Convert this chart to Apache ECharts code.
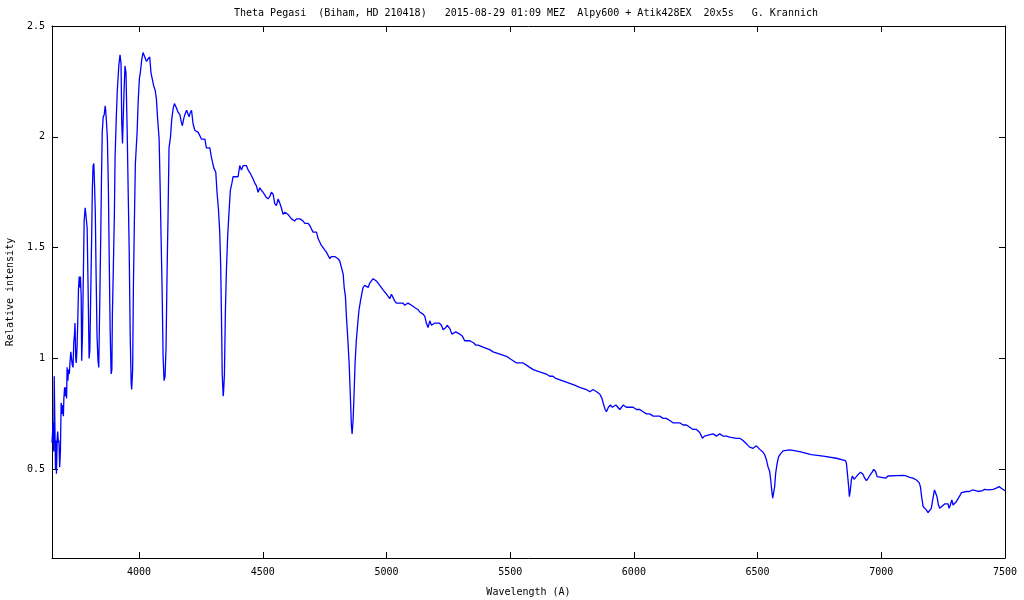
<!DOCTYPE html>
<html>
<head>
<meta charset="utf-8">
<title>Theta Pegasi spectrum</title>
<script src="https://cdn.jsdelivr.net/npm/echarts@6/dist/echarts.min.js"></script>
<style>
  html, body { margin: 0; padding: 0; background: #fff; }
  #chart { width: 1024px; height: 600px; }
</style>
</head>
<body>
<div id="chart"></div>
<script>
// spectrum: wavelength in Angstrom, relative intensity
var wavelength = [
  3648, 3650, 3652, 3655, 3657, 3659, 3662, 3664, 3666, 3669, 3671, 3674, 3676, 3679, 3682, 3685,
  3688, 3691, 3694, 3696, 3699, 3702, 3705, 3707, 3709, 3712, 3715, 3718, 3720, 3724, 3727, 3730,
  3733, 3736, 3739, 3741, 3744, 3746, 3749, 3752, 3755, 3758, 3760, 3763, 3766, 3768, 3771, 3774,
  3778, 3782, 3784, 3787, 3790, 3794, 3798, 3801, 3805, 3809, 3811, 3814, 3817, 3820, 3823, 3826,
  3830, 3834, 3837, 3841, 3845, 3848, 3851, 3855, 3859, 3863, 3865, 3868, 3872, 3876, 3879, 3883,
  3887, 3890, 3892, 3896, 3900, 3903, 3908, 3912, 3918, 3923, 3927, 3930, 3933, 3935, 3939, 3943,
  3947, 3952, 3956, 3960, 3964, 3968, 3970, 3974, 3977, 3981, 3985, 3992, 3996, 4001, 4005, 4011,
  4016, 4023, 4030, 4035, 4043, 4048, 4054, 4059, 4065, 4070, 4075, 4081, 4085, 4089, 4093, 4097,
  4101, 4105, 4109, 4113, 4117, 4121, 4127, 4132, 4138, 4143, 4151, 4158, 4165, 4170, 4175, 4180,
  4185, 4192, 4202, 4207, 4212, 4218, 4225, 4239, 4245, 4252, 4259, 4266, 4272, 4286, 4292, 4302,
  4310, 4315, 4321, 4326, 4330, 4333, 4336, 4340, 4342, 4345, 4349, 4353, 4358, 4364, 4369, 4375,
  4380, 4391, 4400, 4407, 4414, 4420, 4427, 4434, 4441, 4447, 4461, 4468, 4474, 4481, 4488, 4494,
  4501, 4512, 4521, 4528, 4535, 4542, 4548, 4555, 4562, 4569, 4575, 4582, 4589, 4596, 4602, 4609,
  4616, 4629, 4636, 4650, 4663, 4670, 4683, 4690, 4703, 4717, 4724, 4737, 4750, 4757, 4771, 4777,
  4791, 4804, 4811, 4818, 4825, 4829, 4834, 4838, 4843, 4849, 4854, 4858, 4861, 4865, 4868, 4873,
  4878, 4884, 4889, 4895, 4900, 4905, 4912, 4926, 4932, 4939, 4946, 4959, 4973, 4986, 5000, 5013,
  5020, 5033, 5040, 5051, 5067, 5074, 5087, 5101, 5114, 5128, 5134, 5148, 5155, 5161, 5168, 5175,
  5182, 5195, 5213, 5222, 5229, 5240, 5245, 5253, 5258, 5264, 5272, 5280, 5296, 5307, 5316, 5337,
  5353, 5361, 5370, 5393, 5417, 5431, 5458, 5485, 5498, 5512, 5525, 5552, 5566, 5579, 5593, 5619,
  5646, 5660, 5673, 5684, 5710, 5735, 5760, 5781, 5808, 5822, 5835, 5849, 5862, 5871, 5878, 5884,
  5889, 5897, 5905, 5913, 5921, 5927, 5935, 5943, 5950, 5956, 5970, 5983, 5997, 6010, 6024, 6037,
  6051, 6064, 6078, 6104, 6118, 6131, 6145, 6158, 6172, 6185, 6199, 6212, 6226, 6239, 6253, 6263,
  6269, 6277, 6285, 6293, 6320, 6334, 6347, 6360, 6374, 6387, 6414, 6428, 6441, 6455, 6468, 6482,
  6495, 6503, 6509, 6522, 6529, 6536, 6542, 6549, 6553, 6557, 6561, 6565, 6569, 6573, 6579, 6585,
  6594, 6603, 6630, 6670, 6717, 6765, 6818, 6855, 6859, 6863, 6868, 6871, 6875, 6879, 6883, 6890,
  6897, 6906, 6916, 6926, 6933, 6940, 6947, 6953, 6963, 6969, 6977, 6983, 7000, 7018, 7027, 7034,
  7061, 7088, 7101, 7115, 7128, 7142, 7153, 7158, 7163, 7169, 7177, 7182, 7189, 7196, 7202, 7209,
  7215, 7220, 7225, 7231, 7236, 7243, 7256, 7263, 7270, 7274, 7279, 7285, 7290, 7303, 7317, 7324,
  7330, 7344, 7357, 7368, 7374, 7382, 7391, 7409, 7418, 7425, 7433, 7452, 7465, 7476, 7485, 7492,
  7500
];
var intensity = [
  0.62, 0.66, 0.71, 0.58, 0.92, 0.92, 0.50, 0.63, 0.48, 0.64, 0.67, 0.62, 0.63, 0.51, 0.58, 0.80,
  0.75, 0.79, 0.74, 0.82, 0.87, 0.83, 0.87, 0.82, 0.96, 0.90, 0.95, 0.93, 0.97, 1.03, 1.03, 0.97,
  0.96, 1.07, 1.11, 1.16, 1.00, 0.98, 1.04, 1.16, 1.31, 1.37, 1.32, 1.37, 1.28, 0.99, 1.10, 1.32,
  1.62, 1.68, 1.66, 1.66, 1.59, 1.31, 1.00, 1.04, 1.32, 1.60, 1.76, 1.87, 1.88, 1.78, 1.66, 1.40,
  1.10, 0.99, 0.96, 1.25, 1.55, 1.81, 2.02, 2.09, 2.10, 2.14, 2.12, 2.07, 1.99, 1.76, 1.48, 1.13,
  0.93, 0.95, 1.19, 1.41, 1.64, 1.91, 2.09, 2.21, 2.32, 2.37, 2.33, 2.06, 1.97, 2.05, 2.20, 2.32,
  2.29, 2.02, 1.75, 1.49, 1.11, 0.89, 0.86, 0.95, 1.32, 1.62, 1.88, 2.02, 2.15, 2.26, 2.29, 2.35,
  2.38, 2.36, 2.34, 2.35, 2.36, 2.29, 2.29, 2.23, 2.21, 2.17, 2.08, 1.99, 1.78, 1.54, 1.32, 1.01,
  0.90, 0.92, 1.05, 1.38, 1.64, 1.95, 2.00, 2.08, 2.13, 2.15, 2.13, 2.11, 2.10, 2.07, 2.05, 2.08,
  2.10, 2.12, 2.09, 2.11, 2.12, 2.06, 2.03, 2.02, 2.02, 1.99, 1.99, 1.99, 1.95, 1.95, 1.91, 1.86,
  1.84, 1.75, 1.67, 1.57, 1.41, 1.19, 0.93, 0.83, 0.86, 0.93, 1.22, 1.40, 1.55, 1.67, 1.76, 1.79,
  1.82, 1.82, 1.82, 1.87, 1.85, 1.87, 1.87, 1.87, 1.85, 1.84, 1.81, 1.79, 1.78, 1.75, 1.77, 1.76,
  1.75, 1.73, 1.72, 1.73, 1.75, 1.74, 1.70, 1.69, 1.72, 1.70, 1.68, 1.65, 1.66, 1.66, 1.65, 1.64,
  1.63, 1.62, 1.63, 1.63, 1.62, 1.61, 1.61, 1.60, 1.57, 1.57, 1.54, 1.51, 1.49, 1.48, 1.45, 1.46,
  1.46, 1.45, 1.44, 1.41, 1.38, 1.32, 1.28, 1.19, 1.10, 0.98, 0.83, 0.70, 0.66, 0.72, 0.81, 0.98,
  1.08, 1.16, 1.22, 1.26, 1.29, 1.32, 1.33, 1.32, 1.34, 1.35, 1.36, 1.35, 1.33, 1.31, 1.29, 1.27,
  1.29, 1.26, 1.25, 1.25, 1.25, 1.24, 1.25, 1.24, 1.23, 1.22, 1.21, 1.20, 1.19, 1.16, 1.14, 1.17,
  1.15, 1.16, 1.16, 1.15, 1.13, 1.14, 1.15, 1.14, 1.13, 1.11, 1.11, 1.12, 1.11, 1.10, 1.08, 1.08,
  1.07, 1.06, 1.06, 1.05, 1.04, 1.03, 1.02, 1.01, 1.00, 0.99, 0.98, 0.98, 0.97, 0.96, 0.95, 0.94,
  0.93, 0.92, 0.92, 0.91, 0.90, 0.89, 0.88, 0.87, 0.86, 0.85, 0.86, 0.85, 0.84, 0.82, 0.79, 0.77,
  0.76, 0.78, 0.79, 0.78, 0.78, 0.79, 0.79, 0.77, 0.78, 0.79, 0.78, 0.78, 0.78, 0.77, 0.77, 0.76,
  0.75, 0.75, 0.74, 0.74, 0.73, 0.73, 0.72, 0.71, 0.71, 0.71, 0.70, 0.70, 0.69, 0.68, 0.68, 0.67,
  0.66, 0.64, 0.65, 0.65, 0.66, 0.65, 0.66, 0.65, 0.65, 0.645, 0.64, 0.64, 0.63, 0.615, 0.60, 0.595,
  0.606, 0.615, 0.59, 0.577, 0.565, 0.542, 0.512, 0.49, 0.452, 0.407, 0.37, 0.377, 0.422, 0.482, 0.527, 0.557,
  0.572, 0.583, 0.588, 0.58, 0.566, 0.56, 0.55, 0.539, 0.527, 0.482, 0.422, 0.377, 0.407, 0.452, 0.47, 0.455,
  0.464, 0.476, 0.487, 0.478, 0.46, 0.449, 0.46, 0.472, 0.487, 0.50, 0.49, 0.467, 0.464, 0.46, 0.47, 0.476,
  0.472, 0.473, 0.47, 0.464, 0.46, 0.452, 0.44, 0.422, 0.377, 0.332, 0.324, 0.317, 0.305, 0.314, 0.324, 0.37,
  0.407, 0.404, 0.377, 0.339, 0.324, 0.332, 0.344, 0.35, 0.344, 0.324, 0.339, 0.362, 0.339, 0.354, 0.38, 0.395,
  0.40, 0.40, 0.40, 0.407, 0.415, 0.404, 0.40, 0.404, 0.41, 0.418, 0.407, 0.41, 0.415, 0.422, 0.415, 0.41,
  0.403
];
var xTicks = [4000, 4500, 5000, 5500, 6000, 6500, 7000, 7500];
var yTicks = [0.5, 1, 1.5, 2, 2.5];

var titleText = "Theta Pegasi  (Biham, HD 210418)   2015-08-29 01:09 MEZ  Alpy600 + Atik428EX  20x5s   G. Krannich";
var monoFont = "DejaVu Sans Mono";

var chart = echarts.init(document.getElementById("chart"));

var seriesData = wavelength.map(function (w, i) {
  return [w, intensity[i]];
});

function plainNumber(v) {
  return String(v);
}

function frameAxis(extra) {
  // gnuplot style box: black line, short ticks pointing inwards
  var axis = {
    type: "value",
    axisLine: { show: true, onZero: false, lineStyle: { color: "#000", width: 1 } },
    axisTick: { show: true, inside: true, length: 6, lineStyle: { color: "#000", width: 1 } },
    axisLabel: { show: false },
    splitLine: { show: false },
  };
  return Object.assign(axis, extra);
}

var option = {
  animation: false,
  backgroundColor: "#fff",
  title: {
    text: titleText,
    left: 234,
    top: 8,
    padding: 0,
    textStyle: { fontFamily: monoFont, fontSize: 10, fontWeight: "normal", color: "#000" },
  },
  grid: { left: 52, right: 19, top: 26, bottom: 42, containLabel: false, outerBoundsMode: "none" },
  xAxis: [
    frameAxis({
      position: "bottom",
      min: 3648,
      max: 7500,
      name: "Wavelength (A)",
      nameLocation: "middle",
      nameGap: 29,
      nameTextStyle: { fontFamily: monoFont, fontSize: 10, color: "#000" },
      axisTick: { show: true, inside: true, length: 6, customValues: xTicks, lineStyle: { color: "#000" } },
      axisLabel: {
        show: true,
        customValues: xTicks,
        margin: 9,
        formatter: plainNumber,
        fontFamily: monoFont,
        fontSize: 10,
        color: "#000",
      },
    }),
    frameAxis({
      position: "top",
      min: 3648,
      max: 7500,
      axisTick: { show: true, inside: true, length: 6, customValues: xTicks, lineStyle: { color: "#000" } },
    }),
  ],
  yAxis: [
    frameAxis({
      position: "left",
      min: 0.1,
      max: 2.5,
      name: "Relative intensity",
      nameLocation: "middle",
      nameRotate: 90,
      nameGap: 37,
      nameTextStyle: { fontFamily: monoFont, fontSize: 10, color: "#000" },
      axisTick: { show: true, inside: true, length: 6, customValues: yTicks, lineStyle: { color: "#000" } },
      axisLabel: {
        show: true,
        customValues: yTicks,
        margin: 7,
        formatter: plainNumber,
        fontFamily: monoFont,
        fontSize: 10,
        color: "#000",
      },
    }),
    frameAxis({
      position: "right",
      min: 0.1,
      max: 2.5,
      axisTick: { show: true, inside: true, length: 6, customValues: yTicks, lineStyle: { color: "#000" } },
    }),
  ],
  series: [
    {
      type: "line",
      xAxisIndex: 0,
      yAxisIndex: 0,
      data: seriesData,
      showSymbol: false,
      symbol: "none",
      lineStyle: { color: "#0000ff", width: 1.3 },
      itemStyle: { color: "#0000ff" },
    },
  ],
};

chart.setOption(option);
</script>
</body>
</html>
